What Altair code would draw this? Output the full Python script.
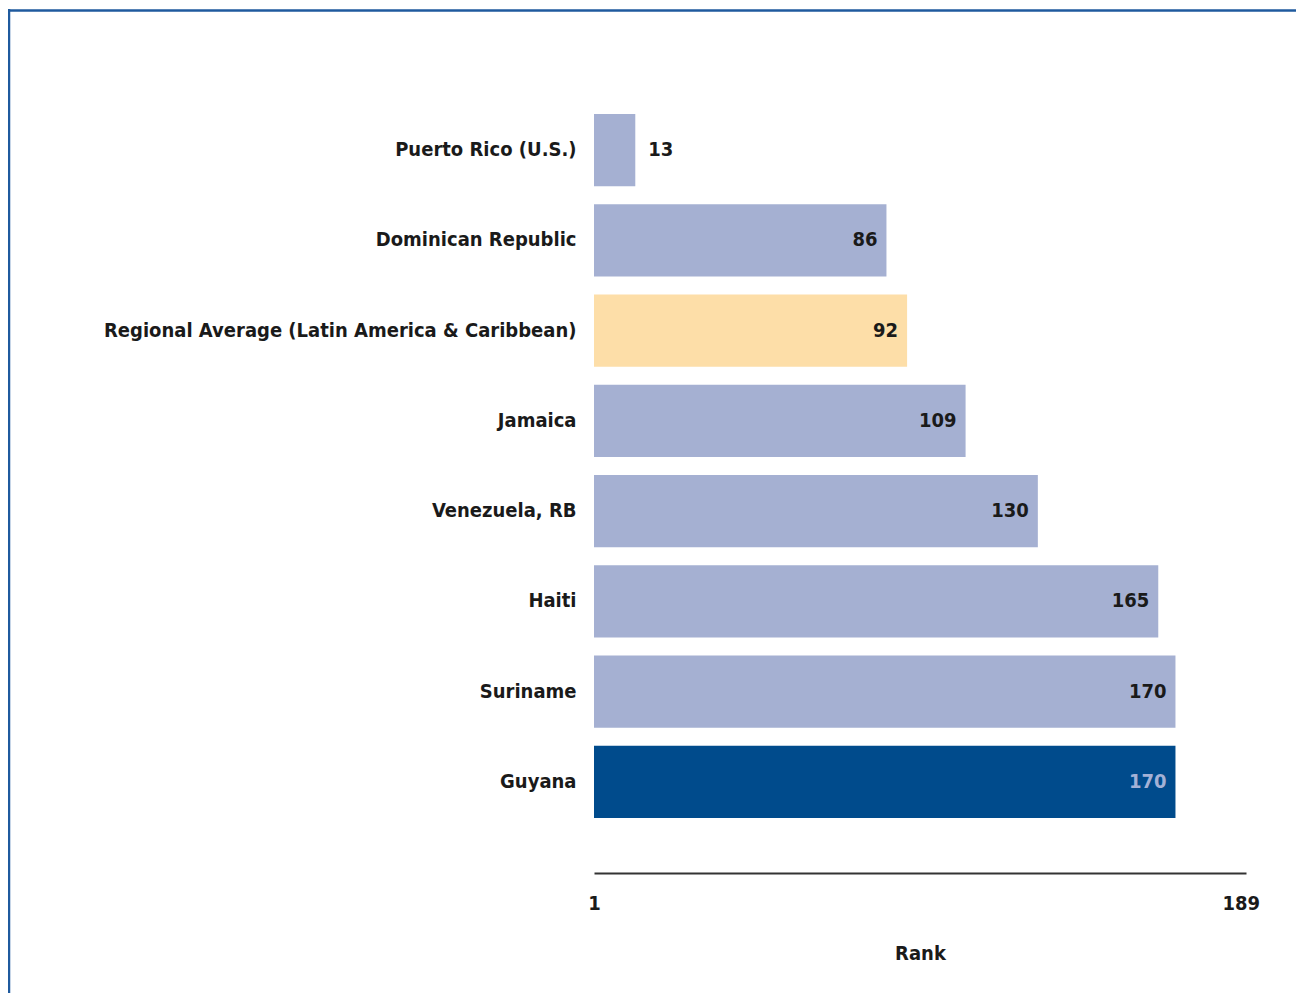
import altair as alt
import pandas as pd

countries = [
    "Puerto Rico (U.S.)",
    "Dominican Republic",
    "Regional Average (Latin America & Caribbean)",
    "Jamaica",
    "Venezuela, RB",
    "Haiti",
    "Suriname",
    "Guyana",
]
ranks = [13, 86, 92, 109, 130, 165, 170, 170]
groups = ["other", "other", "regional", "other", "other", "other", "other", "focus"]
tick_values = [1, 189]
rank_min = 1

df = pd.DataFrame({"country": countries, "rank": ranks, "group": groups})

FONT = "DejaVu Sans Condensed"
FS = 20

y_enc = alt.Y(
    "country:N",
    sort=countries,
    scale=alt.Scale(paddingInner=0.2, paddingOuter=0.1),
    axis=alt.Axis(
        title=None, domain=False, ticks=False, labelPadding=18,
        labelFont=FONT, labelFontSize=FS, labelFontWeight="bold",
        labelColor="#1a1a1a", labelLimit=600,
    ),
)
x_enc = alt.X(
    "rank:Q",
    scale=alt.Scale(domain=[1, 190.5], zero=False, nice=False),
    axis=alt.Axis(
        title="Rank", values=tick_values, grid=False, ticks=False,
        domainColor="#333333", domainWidth=2, offset=46,
        labelFont=FONT, labelFontSize=FS, labelFontWeight="bold",
        labelColor="#1a1a1a", labelPadding=20, labelFlush=False,
        titleFont=FONT, titleFontSize=FS, titleFontWeight="bold",
        titleColor="#1a1a1a", titlePadding=30,
    ),
)

color_scale = alt.Scale(
    domain=["other", "regional", "focus"],
    range=["#A5B0D2", "#FDDEA8", "#004B8C"],
)
text_scale = alt.Scale(
    domain=["other", "regional", "focus"],
    range=["#1a1a1a", "#1a1a1a", "#A3B1D6"],
)

bars = alt.Chart(df).mark_bar().encode(
    x=x_enc,
    x2=alt.X2(datum=rank_min),
    y=y_enc,
    color=alt.Color("group:N", scale=color_scale, legend=None),
)

inside = alt.Chart(df).transform_filter("datum.rank >= 50").mark_text(
    align="right", baseline="middle", dx=-9, font=FONT, fontSize=FS, fontWeight="bold"
).encode(
    x="rank:Q",
    y=alt.Y("country:N", sort=countries),
    text="rank:Q",
    color=alt.Color("group:N", scale=text_scale, legend=None),
)

outside = alt.Chart(df).transform_filter("datum.rank < 50").mark_text(
    align="left", baseline="middle", dx=13, font=FONT, fontSize=FS, fontWeight="bold",
    color="#1a1a1a",
).encode(
    x="rank:Q",
    y=alt.Y("country:N", sort=countries),
    text="rank:Q",
)

one = alt.Data(values=[{"a": 1}])
frame_top = alt.Chart(one).mark_rule(color="#1F5A9E", strokeWidth=2.5).encode(
    x=alt.value(-586), x2=alt.value(1300), y=alt.value(-94.5)
)
frame_left = alt.Chart(one).mark_rule(color="#1F5A9E", strokeWidth=2.5).encode(
    x=alt.value(-585), y=alt.value(-96), y2=alt.value(1000)
)

chart = alt.layer(bars, inside, outside, frame_top, frame_left).resolve_scale(
    color="independent"
).properties(
    width=652,
    height=722,
    background="white",
    autosize=alt.AutoSizeParams(type="none"),
    padding={"left": 586, "top": 97, "right": 50, "bottom": 166},
).configure_view(strokeWidth=0, stroke="transparent")

chart.save("out.html", embed_options={"renderer": "svg", "actions": False})
